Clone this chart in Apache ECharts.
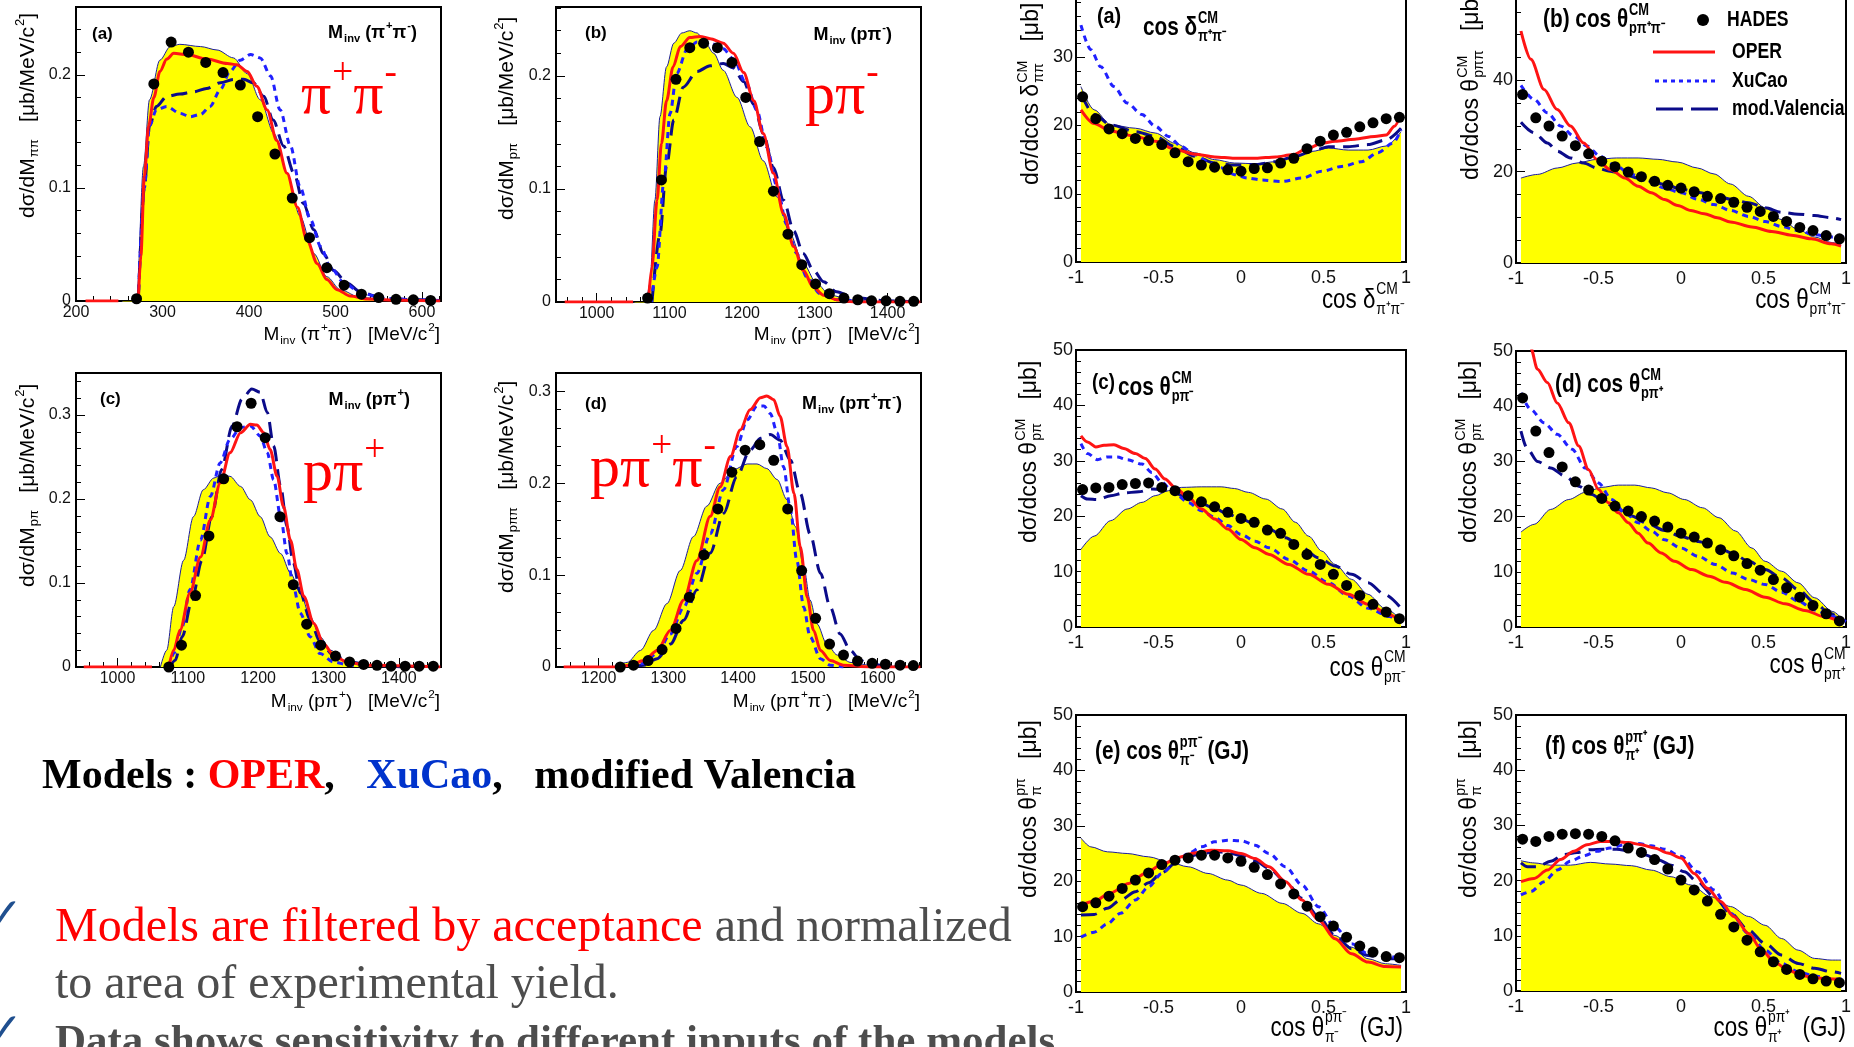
<!DOCTYPE html>
<html>
<head>
<meta charset="utf-8">
<script src="https://cdn.jsdelivr.net/npm/echarts@6/dist/echarts.min.js"></script>
<style>
  html, body { margin: 0; background: #fff; }
  #main { width: 1854px; height: 1047px; }
</style>
</head>
<body>
<div id="main"></div>
<script>
// ---------- data ----------
// invariant mass panels (left), x in MeV/c^2, y in ub/MeV/c^2
const aHx = [270, 290, 310, 330, 350, 370, 390, 410, 430, 450, 470, 490, 510, 530, 550, 570, 590, 610];
const aHy = [0.002, 0.192, 0.229, 0.220, 0.211, 0.202, 0.191, 0.163, 0.130, 0.091, 0.056, 0.0295, 0.014, 0.006, 0.003, 0.0015, 0.001, 0.0005];
const aPS = [[253,0],[262,-0.008],[270,0],[278,0.119],[285,0.178],[297,0.213],[309,0.225],[320,0.227],[344,0.225],[363,0.222],[382,0.215],[398,0.201],[413,0.178],[429,0.148],[444,0.113],[459,0.075],[475,0.042],[490,0.0215],[506,0.0097],[529,0.003],[575,0.0006],[620,0]];
const aOper = [[211,0],[249,0],[250,'-'],[272,0],[275,0.04],[279,0.11],[284,0.155],[290,0.18],[297,0.203],[305,0.214],[313,0.219],[328,0.218],[351,0.214],[375,0.21],[386,0.209],[398,0.203],[409,0.19],[421,0.169],[432,0.142],[444,0.113],[456,0.083],[467,0.054],[479,0.033],[490,0.019],[502,0.010],[517,0.0044],[537,0.0018],[575,0.0006],[621,0]];
const aXu = [[272,0],[279,0.10],[285,0.155],[293,0.169],[305,0.172],[320,0.166],[332,0.163],[344,0.165],[355,0.172],[367,0.187],[378,0.203],[390,0.213],[402,0.218],[413,0.215],[425,0.199],[436,0.169],[448,0.137],[459,0.101],[471,0.072],[483,0.048],[494,0.030],[510,0.016],[529,0.007],[556,0.0024],[594,0.001],[620,0.0005]];
const aVal = [[272,0],[279,0.10],[285,0.155],[293,0.172],[305,0.181],[320,0.183],[336,0.185],[351,0.188],[367,0.193],[382,0.196],[394,0.196],[405,0.193],[417,0.181],[428,0.160],[440,0.137],[452,0.113],[463,0.086],[475,0.063],[486,0.042],[498,0.027],[513,0.016],[529,0.008],[548,0.004],[575,0.0015],[614,0.0006]];

const bHx = [1070, 1089, 1109, 1128, 1147, 1166, 1186, 1205, 1224, 1243, 1263, 1282, 1301, 1320, 1340, 1359, 1378, 1398, 1417, 1436];
const bHy = [0.0035, 0.108, 0.197, 0.225, 0.229, 0.225, 0.212, 0.181, 0.142, 0.098, 0.060, 0.033, 0.016, 0.0074, 0.0035, 0.002, 0.001, 0.001, 0.0006, 0.0006];
const bPS = [[1050,0],[1062,-0.003],[1068,0],[1073,0.016],[1080,0.09],[1087,0.164],[1096,0.208],[1106,0.229],[1117,0.238],[1128,0.240],[1138,0.238],[1147,0.232],[1161,0.220],[1174,0.205],[1193,0.181],[1211,0.155],[1229,0.125],[1248,0.093],[1266,0.060],[1284,0.034],[1303,0.016],[1321,0.006],[1353,0.0015],[1399,0],[1445,0]];
const bOper = [[956,0],[1050,0],[1051,'-'],[1071,0],[1076,0.031],[1083,0.09],[1089,0.14],[1096,0.178],[1105,0.208],[1115,0.226],[1128,0.234],[1142,0.235],[1156,0.233],[1174,0.229],[1188,0.220],[1202,0.203],[1216,0.178],[1229,0.149],[1243,0.114],[1257,0.078],[1271,0.049],[1284,0.028],[1298,0.013],[1312,0.006],[1330,0.002],[1353,0],[1445,0]];
const bXu = [[1075,0],[1083,0.031],[1092,0.105],[1101,0.167],[1110,0.202],[1124,0.223],[1138,0.230],[1156,0.229],[1174,0.224],[1188,0.215],[1206,0.193],[1220,0.170],[1234,0.137],[1248,0.102],[1261,0.069],[1275,0.043],[1289,0.022],[1307,0.0074],[1330,0.002],[1376,0]];
const bVal = [[1076,0],[1087,0.06],[1096,0.12],[1106,0.161],[1119,0.19],[1138,0.204],[1156,0.209],[1174,0.211],[1188,0.207],[1202,0.195],[1216,0.175],[1229,0.149],[1243,0.119],[1257,0.09],[1271,0.063],[1284,0.043],[1298,0.028],[1312,0.018],[1330,0.009],[1353,0.004],[1399,0.001],[1445,0]];

const cHx = [1073, 1091, 1111, 1130, 1151, 1170, 1190, 1210, 1231, 1250, 1269, 1289, 1310, 1330, 1350, 1369, 1389, 1409, 1429, 1449];
const cHy = [0, 0.026, 0.085, 0.156, 0.224, 0.286, 0.314, 0.273, 0.179, 0.098, 0.051, 0.026, 0.013, 0.006, 0.003, 0.002, 0.001, 0.001, 0.001, 0.001];
const cPS = [[1061,0],[1070,0.02],[1080,0.072],[1094,0.127],[1108,0.179],[1122,0.211],[1137,0.225],[1148,0.229],[1160,0.227],[1175,0.215],[1189,0.199],[1203,0.179],[1217,0.155],[1232,0.135],[1246,0.112],[1260,0.088],[1274,0.060],[1288,0.036],[1303,0.020],[1322,0.008],[1345,0.002],[1379,0],[1459,0]];
const cOper = [[952,0],[1049,0],[1050,'-'],[1073,0],[1080,0.02],[1089,0.044],[1103,0.088],[1118,0.131],[1132,0.175],[1146,0.219],[1160,0.255],[1175,0.279],[1189,0.289],[1198,0.288],[1208,0.279],[1217,0.259],[1227,0.227],[1236,0.191],[1246,0.151],[1255,0.116],[1265,0.084],[1279,0.052],[1293,0.028],[1307,0.014],[1326,0.006],[1355,0.002],[1459,0]];
const cXu = [[1073,0],[1080,0.016],[1092,0.048],[1103,0.092],[1118,0.151],[1132,0.203],[1146,0.243],[1160,0.271],[1175,0.285],[1189,0.287],[1203,0.275],[1213,0.255],[1222,0.223],[1232,0.179],[1241,0.135],[1250,0.096],[1260,0.064],[1274,0.036],[1288,0.016],[1307,0.006],[1331,0.002],[1355,0]];
const cVal = [[1075,0],[1082,0.008],[1092,0.036],[1106,0.08],[1120,0.127],[1134,0.179],[1148,0.235],[1163,0.287],[1177,0.319],[1191,0.331],[1203,0.327],[1213,0.303],[1222,0.263],[1232,0.215],[1241,0.167],[1250,0.124],[1260,0.088],[1274,0.056],[1288,0.030],[1307,0.014],[1331,0.006],[1355,0.003],[1402,0]];

const dHx = [1231, 1250, 1271, 1291, 1311, 1330, 1351, 1371, 1391, 1410, 1431, 1451, 1471, 1491, 1511, 1531, 1551, 1571, 1592, 1611, 1632, 1651];
const dHy = [0, 0.002, 0.007, 0.019, 0.042, 0.076, 0.122, 0.172, 0.212, 0.236, 0.242, 0.225, 0.172, 0.105, 0.053, 0.025, 0.013, 0.0065, 0.004, 0.003, 0.002, 0.0015];
const dPS = [[1222,0],[1241,0.005],[1260,0.018],[1279,0.04],[1298,0.069],[1317,0.105],[1336,0.142],[1355,0.175],[1374,0.2],[1394,0.215],[1413,0.221],[1427,0.221],[1441,0.216],[1456,0.204],[1470,0.182],[1482,0.153],[1494,0.109],[1503,0.073],[1513,0.047],[1527,0.025],[1542,0.013],[1561,0.005],[1589,0.002],[1637,0]];
const dOper = [[1150,0],[1226,0],[1245,0.002],[1265,0.007],[1284,0.018],[1303,0.04],[1322,0.073],[1341,0.116],[1360,0.164],[1374,0.196],[1389,0.229],[1403,0.258],[1417,0.28],[1432,0.293],[1441,0.295],[1451,0.291],[1460,0.273],[1470,0.24],[1480,0.189],[1489,0.131],[1499,0.076],[1508,0.04],[1518,0.018],[1532,0.007],[1551,0.002],[1589,0],[1661,0]];
const dXu = [[1245,0],[1265,0.004],[1284,0.015],[1303,0.036],[1322,0.065],[1341,0.102],[1360,0.145],[1379,0.193],[1398,0.24],[1413,0.269],[1427,0.284],[1437,0.284],[1446,0.276],[1456,0.255],[1465,0.218],[1475,0.171],[1484,0.116],[1494,0.065],[1503,0.033],[1518,0.009],[1532,0.002],[1551,0]];
const dVal = [[1245,0],[1265,0.002],[1284,0.009],[1303,0.025],[1322,0.051],[1341,0.084],[1360,0.124],[1379,0.167],[1398,0.207],[1417,0.236],[1432,0.249],[1446,0.253],[1460,0.247],[1475,0.225],[1489,0.189],[1503,0.145],[1518,0.102],[1532,0.065],[1546,0.036],[1561,0.018],[1575,0.007],[1589,0.003],[1618,0]];

// angular panels (right), x = cos, y in ub
const cosBins = [-0.96, -0.88, -0.80, -0.72, -0.64, -0.56, -0.48, -0.40, -0.32, -0.24, -0.16, -0.08, 0, 0.08, 0.16, 0.24, 0.32, 0.40, 0.48, 0.56, 0.64, 0.72, 0.80, 0.88, 0.96];

const raH = [24.2, 21.0, 19.5, 18.8, 18.1, 17.8, 17.2, 16.0, 14.7, 14.2, 13.9, 13.5, 13.3, 13.7, 13.8, 14.5, 15.2, 16.6, 17.7, 18.6, 19.0, 19.8, 20.4, 21.0, 21.2];
const raPS = [[-0.97,25.7],[-0.89,22.3],[-0.79,20.1],[-0.64,19.6],[-0.52,18.9],[-0.40,17.4],[-0.28,16.0],[-0.16,15.0],[-0.04,14.5],[0.09,14.4],[0.21,14.7],[0.33,15.5],[0.43,16.2],[0.53,16.7],[0.65,16.4],[0.77,16.4],[0.88,17.0],[0.97,19.1]];
const raOper = [[-0.97,22.3],[-0.89,20.3],[-0.79,19.2],[-0.64,18.4],[-0.52,17.7],[-0.40,16.5],[-0.28,15.8],[-0.16,15.4],[-0.04,15.2],[0.09,15.2],[0.21,15.4],[0.31,15.7],[0.41,16.7],[0.49,17.4],[0.57,17.7],[0.69,18.0],[0.81,18.4],[0.88,18.6],[0.93,19.9],[0.97,21.8]];
const raXu = [[-0.97,34.7],[-0.91,31.1],[-0.85,28.6],[-0.77,25.7],[-0.69,23.3],[-0.60,21.6],[-0.52,19.9],[-0.44,18.4],[-0.36,16.9],[-0.28,15.7],[-0.20,14.7],[-0.12,13.8],[-0.04,12.8],[0.04,12.3],[0.13,12.0],[0.25,11.8],[0.37,12.3],[0.49,13.3],[0.61,14.0],[0.73,14.7],[0.83,16.0],[0.92,17.4],[0.97,19.4]];
const raVal = [[-0.97,24.7],[-0.89,21.6],[-0.79,20.1],[-0.64,19.1],[-0.52,18.4],[-0.40,16.9],[-0.28,15.5],[-0.16,14.5],[-0.04,14.2],[0.09,14.3],[0.21,14.7],[0.33,15.5],[0.45,16.4],[0.53,16.9],[0.65,16.9],[0.77,17.2],[0.88,17.9],[0.97,19.6]];

const rbH = [36.9, 31.8, 30.0, 27.8, 25.7, 23.9, 22.3, 21.1, 19.9, 18.9, 17.9, 17.0, 16.4, 15.6, 14.6, 14.1, 13.3, 12.2, 11.3, 10.2, 9.1, 7.8, 7.1, 6.0, 5.3];
const rbPS = [[-0.97,18.6],[-0.87,19.4],[-0.75,20.8],[-0.63,21.9],[-0.51,22.7],[-0.39,23.0],[-0.26,23.0],[-0.14,22.7],[-0.02,22.1],[0.10,20.8],[0.20,19.5],[0.30,17.3],[0.41,14.6],[0.51,12.1],[0.61,9.5],[0.71,7.3],[0.81,5.7],[0.91,4.5],[0.97,4.0]];
const rbOper = [[-0.97,50.8],[-0.91,44.6],[-0.83,38.0],[-0.75,33.6],[-0.67,30.0],[-0.59,26.3],[-0.51,22.7],[-0.43,20.5],[-0.34,18.6],[-0.26,16.8],[-0.18,15.4],[-0.10,13.9],[-0.02,12.6],[0.06,11.5],[0.14,10.8],[0.22,9.9],[0.30,9.0],[0.43,7.9],[0.55,6.9],[0.67,6.1],[0.79,5.3],[0.91,4.2],[0.97,3.7]];
const rbXu = [[-0.97,38.9],[-0.89,35.8],[-0.81,32.9],[-0.73,30.0],[-0.65,27.8],[-0.57,25.6],[-0.49,23.4],[-0.41,21.6],[-0.30,19.4],[-0.20,17.9],[-0.10,16.4],[0,15.4],[0.10,14.0],[0.20,12.8],[0.30,11.5],[0.41,10.2],[0.51,9.1],[0.61,8.0],[0.71,7.1],[0.81,6.2],[0.91,5.7],[0.99,5.7]];
const rbVal = [[-0.97,30.8],[-0.89,28.5],[-0.81,26.3],[-0.75,24.5],[-0.67,23.0],[-0.59,21.9],[-0.51,20.8],[-0.43,20.1],[-0.34,19.4],[-0.26,18.6],[-0.18,17.9],[-0.10,17.2],[0,16.2],[0.10,15.5],[0.20,14.8],[0.30,14.0],[0.41,13.2],[0.51,12.1],[0.61,11.1],[0.71,10.7],[0.81,10.4],[0.91,9.9],[0.97,9.5]];

const rcH = [24.8, 25.1, 25.2, 25.7, 25.9, 26.0, 25.2, 24.6, 23.7, 22.6, 21.7, 20.7, 19.6, 18.9, 17.5, 16.9, 14.9, 13.1, 11.3, 9.5, 7.5, 5.7, 4.1, 2.7, 1.5];
const rcPS = [[-0.97,14.0],[-0.89,16.4],[-0.79,19.2],[-0.69,21.3],[-0.60,22.5],[-0.52,23.7],[-0.44,24.6],[-0.36,25.2],[-0.24,25.3],[-0.12,25.3],[-0.04,25.0],[0.045,24.3],[0.15,23.1],[0.25,21.3],[0.33,18.9],[0.41,16.4],[0.49,13.7],[0.57,11.3],[0.67,8.6],[0.77,5.9],[0.87,3.4],[0.97,1.3]];
const rcOper = [[-0.97,34.5],[-0.93,33.4],[-0.88,32.5],[-0.83,32.8],[-0.77,32.9],[-0.71,32.2],[-0.64,31.3],[-0.58,30.4],[-0.52,28.5],[-0.46,26.7],[-0.40,25.2],[-0.32,23.4],[-0.24,21.3],[-0.16,19.5],[-0.08,17.7],[0,15.8],[0.085,14.3],[0.17,13.1],[0.29,11.3],[0.41,9.5],[0.53,7.7],[0.65,5.9],[0.77,4.1],[0.90,2.2],[0.97,0.8]];
const rcXu = [[-0.97,33.1],[-0.93,31.3],[-0.87,30.2],[-0.81,30.7],[-0.75,30.7],[-0.69,30.2],[-0.60,29.4],[-0.54,27.9],[-0.48,26.1],[-0.40,24.0],[-0.32,22.5],[-0.24,21.0],[-0.16,19.8],[-0.08,18.3],[0,16.7],[0.085,15.5],[0.17,14.3],[0.29,12.2],[0.41,10.1],[0.53,8.0],[0.65,5.6],[0.77,3.4],[0.90,1.9],[0.97,1.0]];
const rcVal = [[-0.97,23.7],[-0.93,23.1],[-0.87,23.0],[-0.79,23.7],[-0.71,24.2],[-0.62,24.4],[-0.54,24.9],[-0.48,24.8],[-0.40,24.2],[-0.32,23.2],[-0.24,22.3],[-0.16,21.4],[-0.08,20.4],[0,19.5],[0.085,18.6],[0.17,17.7],[0.27,16.1],[0.37,14.3],[0.47,12.5],[0.57,11.0],[0.67,9.5],[0.77,8.0],[0.87,5.9],[0.97,3.4]];

const rdH = [41.5, 35.5, 31.6, 29.0, 26.3, 24.8, 23.3, 21.9, 21.0, 20.0, 19.2, 18.1, 17.0, 16.3, 15.2, 14.0, 12.9, 11.5, 10.3, 8.6, 7.1, 5.4, 3.9, 2.4, 1.1];
const rdPS = [[-0.97,17.2],[-0.89,18.6],[-0.79,21.3],[-0.68,23.1],[-0.58,24.4],[-0.48,25.3],[-0.38,25.7],[-0.28,25.7],[-0.18,25.2],[-0.08,24.3],[0.02,23.1],[0.13,21.6],[0.23,19.8],[0.33,17.4],[0.43,14.3],[0.51,11.9],[0.61,10.1],[0.71,8.0],[0.81,5.3],[0.92,2.8],[0.98,1.3]];
const rdOper = [[-0.95,56],[-0.91,50.5],[-0.87,46.7],[-0.81,44.3],[-0.75,40.6],[-0.68,37.0],[-0.62,32.8],[-0.56,28.5],[-0.50,24.9],[-0.44,22.5],[-0.38,20.7],[-0.32,18.9],[-0.26,17.0],[-0.20,15.2],[-0.12,13.4],[-0.04,11.9],[0.065,10.4],[0.17,9.2],[0.27,8.1],[0.39,6.8],[0.51,5.4],[0.63,4.2],[0.75,3.0],[0.875,1.8],[0.98,0.7]];
const rdXu = [[-0.97,42.4],[-0.91,39.4],[-0.83,37.0],[-0.75,34.9],[-0.66,32.2],[-0.58,28.8],[-0.50,26.1],[-0.42,23.1],[-0.34,20.7],[-0.26,18.9],[-0.18,17.4],[-0.10,15.8],[0,14.3],[0.105,12.8],[0.21,11.3],[0.31,9.8],[0.41,8.6],[0.51,7.7],[0.61,6.3],[0.71,4.7],[0.81,3.1],[0.92,1.9],[1.0,1.0]];
const rdVal = [[-0.97,35.5],[-0.93,32.2],[-0.87,30.0],[-0.79,28.8],[-0.70,27.3],[-0.62,25.5],[-0.54,24.0],[-0.46,22.5],[-0.38,21.3],[-0.30,20.1],[-0.20,18.7],[-0.10,17.5],[0,16.4],[0.105,15.5],[0.21,14.6],[0.31,13.4],[0.41,11.9],[0.51,10.4],[0.61,8.9],[0.71,6.8],[0.81,4.4],[0.90,2.5],[0.98,1.0]];

const reH = [15.4, 16.1, 17.3, 18.7, 20.2, 21.5, 23.0, 23.8, 24.2, 24.7, 24.7, 24.2, 23.6, 22.5, 21.2, 19.5, 17.7, 15.5, 13.6, 11.9, 9.9, 8.3, 7.2, 6.4, 6.2];
const rePS = [[-0.97,27.8],[-0.91,26.2],[-0.81,25.3],[-0.69,25.0],[-0.56,24.4],[-0.44,23.5],[-0.32,22.6],[-0.20,21.4],[-0.08,20.2],[0,19.3],[0.125,17.8],[0.25,16.0],[0.37,14.2],[0.47,12.3],[0.57,10.2],[0.67,8.1],[0.77,6.0],[0.875,5.1],[0.97,4.8]];
const reOper = [[-0.97,15.7],[-0.89,16.4],[-0.79,17.9],[-0.68,19.6],[-0.58,21.4],[-0.48,23.0],[-0.38,24.3],[-0.28,25.1],[-0.18,25.6],[-0.08,25.5],[0,25.0],[0.085,24.1],[0.17,22.6],[0.27,19.9],[0.37,16.6],[0.47,13.0],[0.57,9.6],[0.67,6.9],[0.77,5.4],[0.875,4.6],[0.97,4.5]];
const reXu = [[-0.97,9.9],[-0.89,10.8],[-0.81,12.3],[-0.73,14.2],[-0.64,16.6],[-0.56,19.0],[-0.48,21.4],[-0.40,23.3],[-0.32,25.0],[-0.24,26.2],[-0.16,27.1],[-0.08,27.4],[0,27.3],[0.085,26.5],[0.17,25.0],[0.27,22.6],[0.37,19.3],[0.47,15.4],[0.57,11.7],[0.67,8.7],[0.77,6.9],[0.875,6.3],[0.97,6.3]];
const reVal = [[-0.97,13.9],[-0.89,14.0],[-0.81,15.1],[-0.73,16.6],[-0.64,18.1],[-0.56,19.7],[-0.48,21.5],[-0.40,23.2],[-0.32,24.4],[-0.24,25.0],[-0.16,25.3],[-0.08,25.2],[0,24.6],[0.085,23.7],[0.17,22.3],[0.27,19.9],[0.37,16.9],[0.47,13.6],[0.57,10.2],[0.67,7.8],[0.77,6.6],[0.875,6.0],[0.97,6.0]];

const rfH = [27.5, 27.1, 28.0, 28.4, 28.5, 28.4, 28.0, 27.2, 25.9, 25.1, 23.8, 22.1, 20.1, 18.3, 16.3, 13.9, 11.6, 9.2, 7.1, 5.3, 3.9, 3.0, 2.2, 1.8, 1.5];
const rfPS = [[-0.97,23.6],[-0.89,23.2],[-0.79,22.8],[-0.67,22.8],[-0.55,23.3],[-0.43,23.0],[-0.30,22.7],[-0.18,21.9],[-0.06,20.7],[0.06,19.2],[0.18,17.1],[0.30,15.3],[0.41,13.5],[0.51,11.9],[0.61,9.5],[0.71,7.4],[0.81,5.9],[0.91,5.6],[0.97,5.6]];
const rfOper = [[-0.97,19.8],[-0.89,20.4],[-0.81,21.9],[-0.73,23.8],[-0.65,25.3],[-0.57,26.5],[-0.49,27.1],[-0.41,27.1],[-0.32,26.9],[-0.24,26.5],[-0.16,25.9],[-0.08,25.0],[0,24.1],[0.08,21.3],[0.16,18.6],[0.24,16.2],[0.32,13.5],[0.41,10.4],[0.49,7.4],[0.57,5.1],[0.65,3.8],[0.73,2.8],[0.81,2.4],[0.89,2.2],[0.97,2.1]];
const rfXu = [[-0.97,17.4],[-0.91,18.0],[-0.83,19.8],[-0.75,21.9],[-0.67,23.5],[-0.59,24.5],[-0.51,25.3],[-0.43,25.9],[-0.34,26.5],[-0.26,26.7],[-0.18,26.3],[-0.10,25.7],[0,24.4],[0.10,21.6],[0.20,18.3],[0.30,14.1],[0.41,10.4],[0.51,7.4],[0.61,5.0],[0.71,3.5],[0.81,2.7],[0.91,2.2],[0.99,2.1]];
const rfVal = [[-0.97,23.2],[-0.93,22.5],[-0.87,22.5],[-0.79,23.5],[-0.71,24.7],[-0.63,25.1],[-0.55,25.6],[-0.47,25.7],[-0.39,25.7],[-0.30,25.3],[-0.22,24.7],[-0.14,23.8],[-0.06,22.8],[0.02,21.6],[0.10,19.8],[0.20,17.1],[0.30,14.1],[0.41,11.0],[0.51,8.6],[0.61,6.5],[0.71,5.0],[0.81,4.1],[0.91,3.5],[0.97,3.2]];

// ---------- layout ----------
const SANS = "'Liberation Sans', Arial, sans-serif";
const SERIF = "'Liberation Serif', 'Times New Roman', serif";

const panels = [
  { g: [76, 7, 365, 294], x: [200, 622, 100, 20], y: [0, 0.26, 0.1, 0.02], fs: 16, dot: 11, ps: aPS, oper: aOper, xu: aXu, val: aVal, hx: aHx, hy: aHy },
  { g: [556, 7, 365, 295], x: [944, 1446, 100, 20], y: [0, 0.261, 0.1, 0.02], fs: 16, dot: 11, ps: bPS, oper: bOper, xu: bXu, val: bVal, hx: bHx, hy: bHy },
  { g: [76, 373, 365, 294], x: [941, 1460, 100, 20], y: [0, 0.35, 0.1, 0.02], fs: 16, dot: 11, ps: cPS, oper: cOper, xu: cXu, val: cVal, hx: cHx, hy: cHy },
  { g: [556, 373, 365, 294], x: [1139, 1662, 100, 20], y: [0, 0.32, 0.1, 0.02], fs: 16, dot: 11, ps: dPS, oper: dOper, xu: dXu, val: dVal, hx: dHx, hy: dHy },
  { g: [1076, -11, 330, 273], x: [-1, 1, 0.5, 0.1], y: [0, 40, 10, 2], fs: 18, dot: 11, ps: raPS, oper: raOper, xu: raXu, val: raVal, hx: cosBins, hy: raH },
  { g: [1516, -11, 330, 274], x: [-1, 1, 0.5, 0.1], y: [0, 60, 20, 5], fs: 18, dot: 11, ps: rbPS, oper: rbOper, xu: rbXu, val: rbVal, hx: cosBins, hy: rbH },
  { g: [1076, 350, 330, 277], x: [-1, 1, 0.5, 0.1], y: [0, 50, 10, 2], fs: 18, dot: 11, ps: rcPS, oper: rcOper, xu: rcXu, val: rcVal, hx: cosBins, hy: rcH },
  { g: [1516, 351, 330, 276], x: [-1, 1, 0.5, 0.1], y: [0, 50, 10, 2], fs: 18, dot: 11, ps: rdPS, oper: rdOper, xu: rdXu, val: rdVal, hx: cosBins, hy: rdH },
  { g: [1076, 715, 330, 277], x: [-1, 1, 0.5, 0.1], y: [0, 50, 10, 2], fs: 18, dot: 11, ps: rePS, oper: reOper, xu: reXu, val: reVal, hx: cosBins, hy: reH },
  { g: [1516, 715, 330, 276], x: [-1, 1, 0.5, 0.1], y: [0, 50, 10, 2], fs: 18, dot: 11, ps: rfPS, oper: rfOper, xu: rfXu, val: rfVal, hx: cosBins, hy: rfH }
];

function ticks(min, max, step) {
  const out = [];
  for (let v = Math.ceil(min / step - 1e-9) * step; v <= max + 1e-9; v += step) out.push(Math.round(v * 1e6) / 1e6);
  return out;
}

function axes(dim, gi, r, fs) {
  const [min, max, major, minor] = r;
  const majors = ticks(min, max, major), minors = ticks(min, max, minor);
  const pos = dim === 'x' ? 'bottom' : 'left';
  // onZero off, otherwise the y ticks jump to x = 0 on the cos panels
  const common = { type: 'value', gridIndex: gi, min, max, position: pos, splitLine: { show: false }, axisLine: { show: false, onZero: false } };
  return [
    Object.assign({}, common, {
      axisTick: { show: true, inside: true, length: 9, customValues: majors, lineStyle: { color: '#000', width: 1 } },
      axisLabel: {
        customValues: majors, formatter: v => String(v), color: '#111', fontSize: fs, fontFamily: SANS,
        margin: dim === 'x' ? (fs > 16 ? 7 : 4) : (fs > 16 ? 3 : 5), showMinLabel: true, showMaxLabel: true
      }
    }),
    Object.assign({}, common, {
      axisTick: { show: true, inside: true, length: 5, customValues: minors, lineStyle: { color: '#000', width: 1 } },
      axisLabel: { show: false }
    })
  ];
}

const grid = [], xAxis = [], yAxis = [], series = [];
panels.forEach((p, i) => {
  grid.push({ left: p.g[0], top: p.g[1], width: p.g[2], height: p.g[3], show: true, borderColor: '#000', borderWidth: 2, backgroundColor: 'transparent', outerBoundsMode: 'none', containLabel: false });
  xAxis.push(...axes('x', i, p.x, p.fs));
  yAxis.push(...axes('y', i, p.y, p.fs));
  const base = { type: 'line', xAxisIndex: 2 * i, yAxisIndex: 2 * i, showSymbol: false, smooth: 0.3, smoothMonotone: 'x', silent: true };
  series.push(
    Object.assign({}, base, { data: p.ps, lineStyle: { color: '#1c1ca0', width: 1 }, areaStyle: { color: '#ffff00', opacity: 1 }, z: 1 }),
    Object.assign({}, base, { data: p.val, lineStyle: { color: '#0b0b8a', width: 3, type: [16, 8] }, z: 2 }),
    Object.assign({}, base, { data: p.xu, lineStyle: { color: '#2020ff', width: 3, type: [6, 5] }, z: 3 }),
    Object.assign({}, base, { data: p.oper, lineStyle: { color: '#ff1414', width: 3 }, z: 4 }),
    { type: 'scatter', xAxisIndex: 2 * i, yAxisIndex: 2 * i, data: p.hx.map((x, k) => [x, p.hy[k]]), symbolSize: p.dot, itemStyle: { color: '#000', opacity: 1 }, silent: true, z: 5 }
  );
});

// ---------- text with super/subscripts ----------
const mctx = document.createElement('canvas').getContext('2d');
function tw(s, size, o) {
  mctx.font = (o.weight || 'normal') + ' ' + size + 'px ' + (o.family || SANS);
  return mctx.measureText(s).width;
}
function t(text, x, y, size, o) {
  return { type: 'text', x, y, silent: true, style: { text, fontSize: size, fontFamily: o.family || SANS, fontWeight: o.weight || 'normal', fill: o.color || '#000', align: 'left', verticalAlign: 'middle' } };
}
function mtext(parts, o) {
  const kids = [];
  let cx = 0;
  const s2 = o.size * 0.62;
  parts.forEach(p => {
    if (typeof p === 'string') p = { b: p };
    const po = p.color ? Object.assign({}, o, { color: p.color }) : o;
    if (p.b) { kids.push(t(p.b, cx, 0, o.size, po)); cx += tw(p.b, o.size, po); }
    let w = 0;
    if (p.sup) { kids.push(t(p.sup, cx + 1, -o.size * 0.38, s2, po)); w = tw(p.sup, s2, po) + 1; }
    if (p.sub) { kids.push(t(p.sub, cx + 1, o.size * 0.32, s2, po)); w = Math.max(w, tw(p.sub, s2, po) + 1); }
    cx += w;
  });
  const shift = o.align === 'right' ? -cx : 0;
  kids.forEach(k => { k.x += shift; });
  return { type: 'group', x: o.x, y: o.y, rotation: o.rot || 0, scaleX: o.sx || 1, silent: true, children: kids };
}

const R90 = Math.PI / 2;
const Minv = { b: 'M', sub: 'inv' };
const unitX = [')   [MeV/c', { sup: '2' }, ']'];
const unitY = ['   [μb/MeV/c', { sup: '2' }, ']'];
const RED = '#ff0000';
const BIG = 60;
const elements = [
  // left, invariant masses
  mtext(['(a)'], { x: 92, y: 34, size: 17, weight: 'bold' }),
  mtext([Minv, ' (π', { sup: '+' }, 'π', { sup: '-' }, ')'], { x: 417, y: 33, size: 18, weight: 'bold', align: 'right' }),
  mtext([Minv, ' (π', { sup: '+' }, 'π', { sup: '-' }].concat(unitX), { x: 440, y: 335, size: 19, align: 'right' }),
  mtext(['dσ/dM', { sub: 'ππ' }].concat(unitY), { x: 28, y: 218, size: 21, rot: R90 }),
  mtext(['π', { sup: '+' }, 'π', { sup: '-' }], { x: 301, y: 97, size: BIG, family: SERIF, color: RED }),

  mtext(['(b)'], { x: 585, y: 33, size: 17, weight: 'bold' }),
  mtext([Minv, ' (pπ', { sup: '-' }, ')'], { x: 892, y: 35, size: 18, weight: 'bold', align: 'right' }),
  mtext([Minv, ' (pπ', { sup: '-' }].concat(unitX), { x: 920, y: 335, size: 19, align: 'right' }),
  mtext(['dσ/dM', { sub: 'pπ' }].concat(unitY), { x: 507, y: 220, size: 21, rot: R90 }),
  mtext(['pπ', { sup: '-' }], { x: 805, y: 97, size: BIG, family: SERIF, color: RED }),

  mtext(['(c)'], { x: 100, y: 399, size: 17, weight: 'bold' }),
  mtext([Minv, ' (pπ', { sup: '+' }, ')'], { x: 410, y: 400, size: 18, weight: 'bold', align: 'right' }),
  mtext([Minv, ' (pπ', { sup: '+' }].concat(unitX), { x: 440, y: 702, size: 19, align: 'right' }),
  mtext(['dσ/dM', { sub: 'pπ' }].concat(unitY), { x: 28, y: 587, size: 21, rot: R90 }),
  mtext(['pπ', { sup: '+' }], { x: 303, y: 474, size: BIG, family: SERIF, color: RED }),

  mtext(['(d)'], { x: 585, y: 404, size: 17, weight: 'bold' }),
  mtext([Minv, ' (pπ', { sup: '+' }, 'π', { sup: '-' }, ')'], { x: 902, y: 404, size: 18, weight: 'bold', align: 'right' }),
  mtext([Minv, ' (pπ', { sup: '+' }, 'π', { sup: '-' }].concat(unitX), { x: 920, y: 702, size: 19, align: 'right' }),
  mtext(['dσ/dM', { sub: 'pππ' }].concat(unitY), { x: 507, y: 593, size: 21, rot: R90 }),
  mtext(['pπ', { sup: '+' }, 'π', { sup: '-' }], { x: 590, y: 470, size: BIG, family: SERIF, color: RED }),

  // right, angular distributions
  mtext(['(a)'], { x: 1097, y: 17, size: 22, weight: 'bold', sx: 0.9 }),
  mtext(['cos δ', { sup: 'CM', sub: 'π⁺π⁻' }], { x: 1143, y: 28, size: 26, weight: 'bold', sx: 0.8 }),
  mtext(['cos δ', { sup: 'CM', sub: 'π⁺π⁻' }], { x: 1405, y: 300, size: 28, sx: 0.8, align: 'right' }),
  mtext(['dσ/dcos δ', { sup: 'CM', sub: 'ππ' }, '   [μb]'], { x: 1032, y: 185, size: 23, rot: R90 }),

  mtext(['(b) cos θ', { sup: 'CM', sub: 'pπ⁺π⁻' }], { x: 1543, y: 20, size: 26, weight: 'bold', sx: 0.8 }),
  mtext(['cos θ', { sup: 'CM', sub: 'pπ⁺π⁻' }], { x: 1846, y: 300, size: 28, sx: 0.8, align: 'right' }),
  mtext(['dσ/dcos θ', { sup: 'CM', sub: 'pππ' }, '   [μb]'], { x: 1472, y: 180, size: 23, rot: R90 }),
  mtext(['PS'], { x: 1567, y: 220, size: 24, weight: 'bold', sx: 0.85 }),

  mtext(['(c)'], { x: 1092, y: 383, size: 22, weight: 'bold', sx: 0.85 }),
  mtext(['cos θ', { sup: 'CM', sub: 'pπ⁻' }], { x: 1118, y: 388, size: 26, weight: 'bold', sx: 0.8 }),
  mtext(['cos θ', { sup: 'CM', sub: 'pπ⁻' }], { x: 1406, y: 668, size: 28, sx: 0.8, align: 'right' }),
  mtext(['dσ/dcos θ', { sup: 'CM', sub: 'pπ' }, '   [μb]'], { x: 1030, y: 543, size: 23, rot: R90 }),

  mtext(['(d) cos θ', { sup: 'CM', sub: 'pπ⁺' }], { x: 1555, y: 385, size: 26, weight: 'bold', sx: 0.8 }),
  mtext(['cos θ', { sup: 'CM', sub: 'pπ⁺' }], { x: 1846, y: 665, size: 28, sx: 0.8, align: 'right' }),
  mtext(['dσ/dcos θ', { sup: 'CM', sub: 'pπ' }, '   [μb]'], { x: 1470, y: 543, size: 23, rot: R90 }),

  mtext(['(e) cos θ', { sup: 'pπ⁻', sub: 'π⁻' }, ' (GJ)'], { x: 1095, y: 752, size: 26, weight: 'bold', sx: 0.8 }),
  mtext(['cos θ', { sup: 'pπ⁻', sub: 'π⁻' }, '  (GJ)'], { x: 1403, y: 1028, size: 28, sx: 0.8, align: 'right' }),
  mtext(['dσ/dcos θ', { sup: 'pπ', sub: 'π' }, '   [μb]'], { x: 1030, y: 898, size: 23, rot: R90 }),

  mtext(['(f) cos θ', { sup: 'pπ⁺', sub: 'π⁺' }, ' (GJ)'], { x: 1545, y: 747, size: 26, weight: 'bold', sx: 0.8 }),
  mtext(['cos θ', { sup: 'pπ⁺', sub: 'π⁺' }, '  (GJ)'], { x: 1846, y: 1028, size: 28, sx: 0.8, align: 'right' }),
  mtext(['dσ/dcos θ', { sup: 'pπ', sub: 'π' }, '   [μb]'], { x: 1470, y: 898, size: 23, rot: R90 }),

  // legend inside right (b)
  { type: 'circle', silent: true, shape: { cx: 1703, cy: 20, r: 6 }, style: { fill: '#000' } },
  { type: 'line', silent: true, shape: { x1: 1653, y1: 52, x2: 1715, y2: 52 }, style: { stroke: '#ff1414', lineWidth: 3 } },
  { type: 'line', silent: true, shape: { x1: 1655, y1: 81, x2: 1716, y2: 81 }, style: { stroke: '#2020ff', lineWidth: 3, lineDash: [4, 4] } },
  { type: 'line', silent: true, shape: { x1: 1656, y1: 109, x2: 1718, y2: 109 }, style: { stroke: '#0b0b8a', lineWidth: 3, lineDash: [27, 8] } },
  mtext(['HADES'], { x: 1727, y: 20, size: 22, weight: 'bold', sx: 0.8 }),
  mtext(['OPER'], { x: 1732, y: 52, size: 22, weight: 'bold', sx: 0.8 }),
  mtext(['XuCao'], { x: 1732, y: 81, size: 22, weight: 'bold', sx: 0.8 }),
  mtext(['mod.Valencia'], { x: 1732, y: 109, size: 22, weight: 'bold', sx: 0.8 }),

  // slide text
  mtext([{ b: 'Models : ' }, { b: 'OPER', color: '#ff0000' }, { b: ',   ' }, { b: 'XuCao', color: '#0033cc' }, { b: ',   modified Valencia' }],
        { x: 42, y: 777, size: 42, weight: 'bold', family: SERIF }),
  mtext([{ b: 'Models are filtered by acceptance', color: '#ff0000' }, { b: ' and normalized', color: '#4d4d4d' }], { x: 55, y: 928, size: 48, family: SERIF }),
  mtext([{ b: 'to area of experimental yield.', color: '#4d4d4d' }], { x: 55, y: 985, size: 48, family: SERIF }),
  mtext([{ b: 'Data shows sensitivity to different inputs of the models', color: '#4d4d4d' }], { x: 55, y: 1043, size: 43, weight: 'bold', family: SERIF }),
  mtext([{ b: '✓', color: '#1f4f8f' }], { x: -14, y: 918, size: 44, family: "'DejaVu Sans'" }),
  mtext([{ b: '✓', color: '#1f4f8f' }], { x: -14, y: 1033, size: 44, family: "'DejaVu Sans'" })
];

const chart = echarts.init(document.getElementById('main'), null, { renderer: 'canvas' });
chart.setOption({
  animation: false,
  backgroundColor: '#fff',
  grid, xAxis, yAxis, series,
  graphic: { elements }
});
</script>
</body>
</html>
